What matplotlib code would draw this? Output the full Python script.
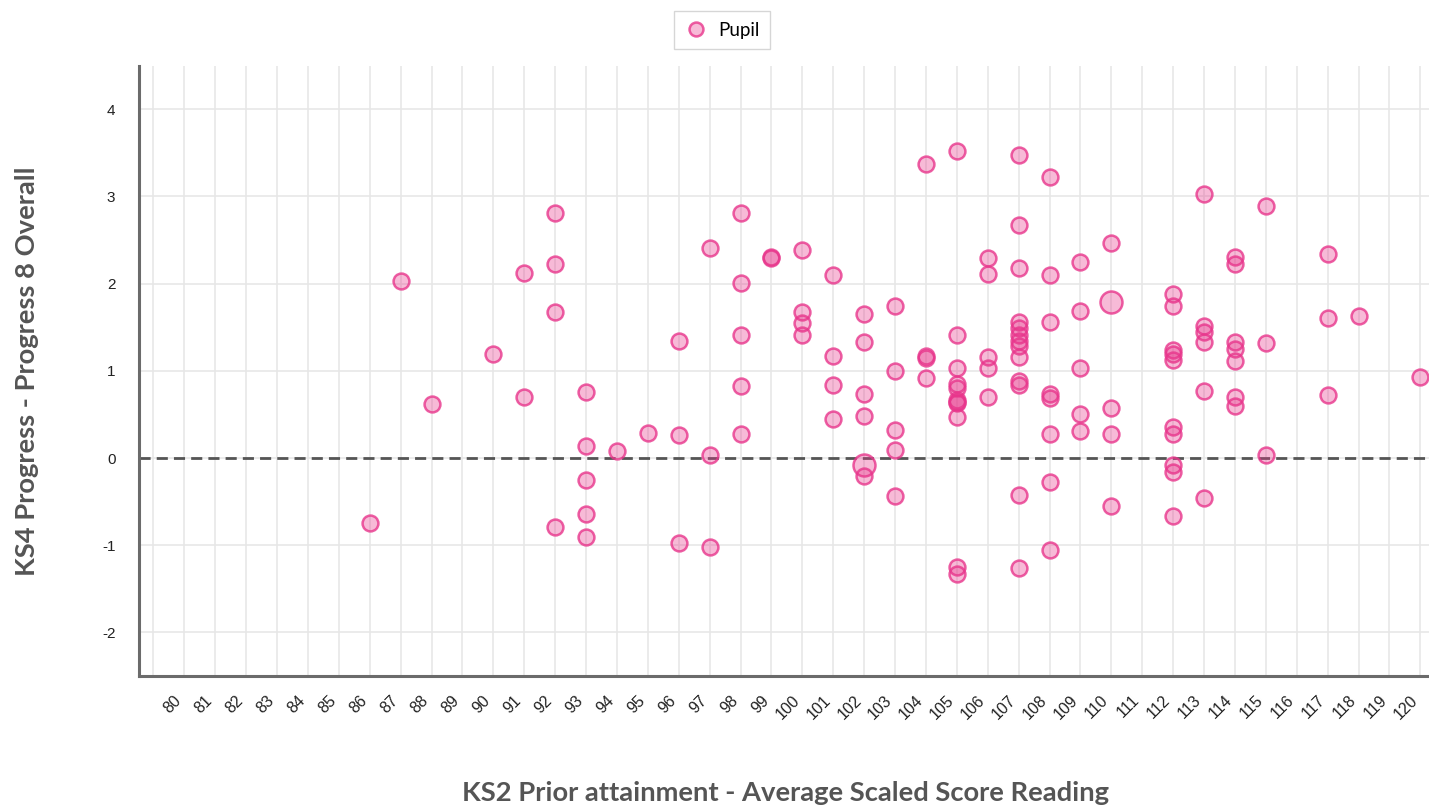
import matplotlib
matplotlib.use("Agg")
import matplotlib.pyplot as plt
import matplotlib.transforms as mtrans
from matplotlib.lines import Line2D

# KS2 reading score -> progress 8 values
pupil_x = (
    [86, 87, 88, 90, 91, 91]
    + [92] * 4 + [93] * 5 + [94, 95] + [96] * 3 + [97] * 3 + [98] * 5
    + [99] * 2 + [100] * 4 + [101] * 4 + [102] * 5 + [103] * 5 + [104] * 4
    + [105] * 11 + [106] * 5 + [107] * 13 + [108] * 8 + [109] * 5 + [110] * 4
    + [112] * 10 + [113] * 6 + [114] * 7 + [115] * 3 + [117] * 3 + [118, 120]
)
pupil_y = [
    -0.74, 2.03, 0.62, 1.19, 2.12, 0.70,
    2.81, 2.23, 1.67, -0.79,
    0.76, 0.14, -0.25, -0.64, -0.91,
    0.08, 0.29,
    1.34, 0.26, -0.97,
    2.41, 0.04, -1.02,
    2.81, 2.01, 1.41, 0.83, 0.27,
    2.30, 2.31,
    2.39, 1.68, 1.55, 1.41,
    2.10, 1.17, 0.84, 0.45,
    1.65, 1.33, 0.74, 0.48, -0.21,
    1.74, 1.00, 0.32, 0.09, -0.43,
    3.37, 1.17, 1.15, 0.92,
    3.52, 1.41, 1.03, 0.85, 0.80, 0.67, 0.64, 0.63, 0.47, -1.25, -1.33,
    2.29, 2.11, 1.16, 1.03, 0.70,
    3.48, 2.67, 2.18, 1.56, 1.49, 1.41, 1.34, 1.28, 1.16, 0.88, 0.84, -0.42, -1.26,
    3.22, 2.10, 1.56, 0.74, 0.69, 0.27, -0.27, -1.06,
    2.25, 1.69, 1.03, 0.50, 0.31,
    2.47, 0.57, 0.27, -0.55,
    1.88, 1.74, 1.24, 1.19, 1.12, 0.36, 0.28, -0.08, -0.16, -0.66,
    3.03, 1.51, 1.45, 1.33, 0.77, -0.46,
    2.31, 2.23, 1.33, 1.25, 1.11, 0.70, 0.60,
    2.89, 1.32, 0.04,
    2.34, 1.61, 0.72,
    1.63, 0.93,
]
# the two larger circles
big_x = [102, 110]
big_y = [-0.08, 1.79]

x_ticks = list(range(80, 121))
y_ticks = [-2, -1, 0, 1, 2, 3, 4]
x_title = "KS2 Prior attainment - Average Scaled Score Reading"
y_title = "KS4 Progress - Progress 8 Overall"

fill = (0.91, 0.21, 0.55, 0.34)
edge = (0.91, 0.21, 0.55, 0.8)
title_font = ["Lato", "DejaVu Sans"]

W, H = 1429, 807
fig = plt.figure(figsize=(W / 100, H / 100), dpi=100)
ax = fig.add_axes([139 / W, 131 / H, 1290 / W, 610.3 / H])

ax.set_xlim(78.534, 120.28)
ax.set_ylim(-2.5, 4.5)

# grid lines (also one at 79, unlabeled)
for gx in range(79, 121):
    ax.axvline(gx, color="#e6e6e6", lw=1.1, zorder=0)
for gy in y_ticks:
    ax.axhline(gy, color="#e6e6e6", lw=1.1, zorder=0)

ax.axhline(0, color="#555555", lw=2.0, ls=(0, (4, 2.2)), zorder=1)

ax.scatter(pupil_x, pupil_y, s=130, facecolor=fill, edgecolor=edge,
           linewidths=1.8, zorder=3)
ax.scatter(big_x, big_y, s=250, facecolor=fill, edgecolor=edge,
           linewidths=1.8, zorder=3)

ax.set_xticks(x_ticks)
ax.set_xticklabels([str(t) for t in x_ticks], rotation=45, ha="right",
                   fontsize=11.5, family="Liberation Sans", color="#222222")
# nudge rotated labels a bit to the right, like the original
shift = mtrans.ScaledTranslation(5 / 72, 0, fig.dpi_scale_trans)
for lab in ax.get_xticklabels():
    lab.set_transform(lab.get_transform() + shift)
ax.set_yticks(y_ticks)
ax.set_yticklabels([str(t) for t in y_ticks], fontsize=11,
                   family="Liberation Sans", color="#222222")
ax.tick_params(axis="x", length=0, pad=12)
ax.tick_params(axis="y", length=0, pad=17)

for side in ["top", "right"]:
    ax.spines[side].set_visible(False)
for side in ["left", "bottom"]:
    ax.spines[side].set_color("#6b6b6b")
    ax.spines[side].set_linewidth(2.2)

fig.text(785 / W, 1 - 793 / H, x_title, ha="center", va="center",
         fontsize=19.7, fontweight="bold", family=title_font, color="#555555")
fig.text(27 / W, 1 - 371 / H, y_title, ha="center", va="center", rotation=90,
         fontsize=19.7, fontweight="bold", family=title_font, color="#555555")

handle = Line2D([], [], marker="o", ls="none", markersize=10,
                markerfacecolor=fill, markeredgecolor=edge, markeredgewidth=1.8)
leg = fig.legend([handle], ["Pupil"], loc="upper center",
                 bbox_to_anchor=(722 / W, 1 - 2 / H), frameon=True,
                 fancybox=False, prop={"family": title_font, "size": 13.5},
                 handletextpad=0.55, borderpad=0.55, handlelength=1.3)
leg.get_frame().set_edgecolor("#cccccc")
leg.get_frame().set_linewidth(1.0)

fig.savefig("out.png", dpi=100)
